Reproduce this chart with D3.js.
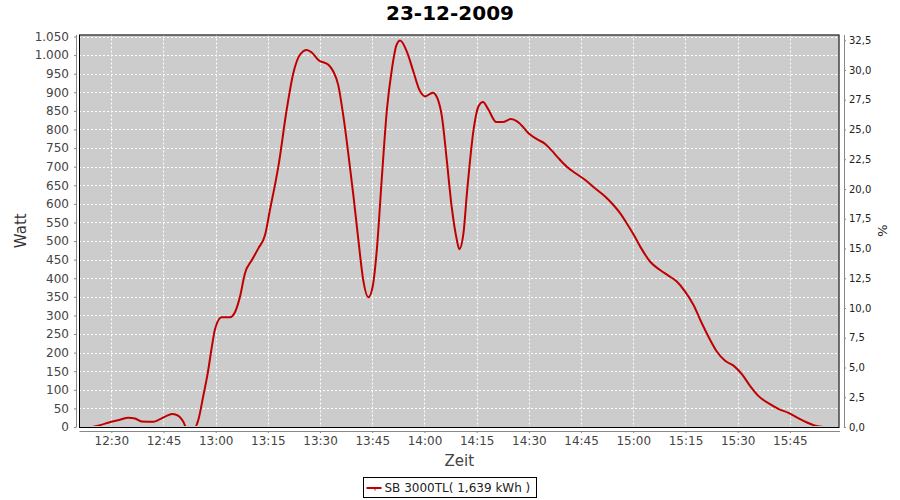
<!DOCTYPE html>
<html>
<head>
<meta charset="utf-8">
<script src="https://cdn.jsdelivr.net/npm/d3@7"></script>
<style>
  body { margin: 0; background: #fff; }
  svg { display: block; font-family: "DejaVu Sans", sans-serif; }
</style>
</head>
<body>
<svg id="chart" width="900" height="500"></svg>
<script>
// minutes after 12:00 on 23-12-2009, and power in Watt
var minutes = [24.5, 26.8, 29.6, 32.3, 34.9, 36.8, 38.7, 42.1, 44, 45.9, 47.6, 49.3, 50.7, 51.5, 54.1,
    55, 56.4, 57.7, 58.9, 59.8, 61.7, 64.1, 65.6, 67.0, 68.4, 70.4, 72.3, 74.2, 75.6, 77.3, 78.0,
    80.4, 82.3, 84.2, 86.2, 87.6, 89.5, 92.4, 93.8, 95.2, 96.7, 98.1, 99.6, 101.0, 102.4, 103.9,
    105.1, 106.3, 107.7, 109.2, 110.6, 112.0, 113.0, 114.9, 116.8, 118.5, 120.2, 122.4, 123.7,
    125.0, 126.4, 127.8, 129.3, 130.0, 131.2, 132.2, 134.1, 135.5, 136.8, 138.4, 140.6, 142.5,
    144.8, 146.7, 148.0, 149.9, 152.3, 154.7, 156.6, 158.5, 160.9, 163.3, 166.2, 169.0, 171.9,
    174.3, 176.2, 178.1, 180.0, 182.0, 184.8, 187.7, 190.1, 192.5, 194.9, 197.3, 199.7, 202.1,
    204.0, 206.4, 208.8, 211.2, 213.6, 216.0, 218.8, 221.7, 224.6, 227.5, 229.9, 231.8, 234.7];
var watt = [0, 5, 13, 19, 25, 23, 15, 14, 21, 30, 35, 30, 14, 0, 0,
    19, 82, 144, 216, 263, 295, 295, 310, 351, 413, 449, 481, 517, 584, 664, 700,
    853, 951, 1001, 1014, 1007, 987, 974, 956, 920, 835, 736, 620, 503, 395, 349,
    377, 476, 664, 853, 960, 1028, 1039, 1010, 956, 907, 889, 899, 884,
    835, 718, 593, 503, 478, 521, 629, 799, 862, 874, 853, 820, 820,
    828, 821, 810, 790, 774, 761, 743, 723, 700, 683, 664, 642, 620,
    597, 575, 548, 519, 485, 445, 422, 407, 391, 364, 328, 279, 234,
    203, 178, 165, 142, 110, 83, 64, 49, 38, 23, 12, 5, 0];

var title = "23-12-2009";
var seriesName = "SB 3000TL( 1,639 kWh )";
var nominal = 3200; // percent axis relative to this

var de = d3.formatLocale({decimal: ",", thousands: ".", grouping: [3], currency: ["", " €"]});

var day = new Date(2009, 11, 23, 12, 0);
function toDate(m) { return new Date(day.getTime() + m * 60000); }

var plot = {left: 79, top: 34.5, right: 839.5, bottom: 427};

var x = d3.scaleTime()
    .domain([toDate(20.72), toDate(239.26)])
    .range([plot.left, plot.right]);
var y = d3.scaleLinear()
    .domain([0, 1055.4])
    .range([plot.bottom, plot.top]);
var y2 = d3.scaleLinear()
    .domain([0, 1055.4 / nominal * 100])
    .range([plot.bottom, plot.top]);

var svg = d3.select("#chart");

// title
svg.append("text")
    .attr("x", 450).attr("y", 20)
    .attr("text-anchor", "middle")
    .style("font-size", "20px").style("font-weight", "bold")
    .attr("fill", "#000")
    .text(title);

// plot background
svg.append("rect")
    .attr("x", plot.left).attr("y", plot.top)
    .attr("width", plot.right - plot.left).attr("height", plot.bottom - plot.top)
    .attr("fill", "#cccccc");

var xTicks = x.ticks(d3.timeMinute.every(15));
var yTicks = d3.range(0, 1051, 50);
var y2Ticks = d3.range(0, 32.6, 2.5);

// grid
svg.append("g").selectAll("line").data(xTicks).enter().append("line")
    .attr("x1", function(d) { return Math.round(x(d)) + 0.5; })
    .attr("x2", function(d) { return Math.round(x(d)) + 0.5; })
    .attr("y1", plot.top).attr("y2", plot.bottom)
    .attr("stroke", "#fff").attr("stroke-dasharray", "2,2");
svg.append("g").selectAll("line").data(yTicks.slice(1)).enter().append("line")
    .attr("x1", plot.left).attr("x2", plot.right)
    .attr("y1", function(d) { return Math.round(y(d)) + 0.5; })
    .attr("y2", function(d) { return Math.round(y(d)) + 0.5; })
    .attr("stroke", "#fff").attr("stroke-dasharray", "2,2");

// series (zero values hide behind the bottom border)
svg.append("clipPath").attr("id", "clip").append("rect")
    .attr("x", plot.left).attr("y", plot.top - 2)
    .attr("width", plot.right - plot.left).attr("height", plot.bottom - plot.top + 1);

var line = d3.line()
    .x(function(d, i) { return x(toDate(minutes[i])); })
    .y(function(d) { return y(d); })
    .curve(d3.curveMonotoneX);

svg.append("path")
    .datum(watt)
    .attr("clip-path", "url(#clip)")
    .attr("d", line)
    .attr("fill", "none")
    .attr("stroke", "#c00000")
    .attr("stroke-width", 2);

// plot outline
svg.append("rect")
    .attr("x", plot.left + 0.5).attr("y", plot.top + 0.5)
    .attr("width", plot.right - plot.left - 1).attr("height", plot.bottom - plot.top)
    .attr("fill", "none").attr("stroke", "#000");

// axes
var xAxis = d3.axisBottom(x).tickValues(xTicks).tickFormat(d3.timeFormat("%H:%M"))
    .tickSizeInner(2).tickSizeOuter(0).tickPadding(3);
var gx = svg.append("g").attr("transform", "translate(0," + (plot.bottom + 4) + ")").call(xAxis);

var yAxis = d3.axisLeft(y).tickValues(yTicks).tickFormat(de.format(",d"))
    .tickSizeInner(2).tickSizeOuter(0).tickPadding(5);
var gy = svg.append("g").attr("transform", "translate(" + (plot.left - 3) + ",0)").call(yAxis);

var y2Axis = d3.axisRight(y2).tickValues(y2Ticks).tickFormat(de.format(".1f"))
    .tickSizeInner(2).tickSizeOuter(0).tickPadding(3);
var gy2 = svg.append("g").attr("transform", "translate(" + (plot.right + 4.5) + ",0)").call(y2Axis);

[gx, gy, gy2].forEach(function(g) {
    g.select(".domain").attr("stroke", "#888");
    g.selectAll(".tick line").attr("stroke", "#888");
    g.selectAll(".tick text").attr("fill", "#444")
        .style("font-family", "DejaVu Sans, sans-serif").style("font-size", "12px");
});
gy2.selectAll(".tick text").attr("fill", "#222").style("font-size", "10px");

// axis titles
svg.append("text")
    .attr("transform", "translate(26," + ((plot.top + plot.bottom) / 2) + ") rotate(-90)")
    .attr("text-anchor", "middle")
    .style("font-size", "15px").attr("fill", "#333")
    .text("Watt");
svg.append("text")
    .attr("x", (plot.left + plot.right) / 2).attr("y", 466)
    .attr("text-anchor", "middle")
    .style("font-size", "15px").attr("fill", "#444")
    .text("Zeit");
svg.append("text")
    .attr("transform", "translate(878," + ((plot.top + plot.bottom) / 2) + ") rotate(90)")
    .attr("text-anchor", "middle")
    .style("font-size", "13px").attr("fill", "#222")
    .text("%");

// legend
var lg = svg.append("g").attr("transform", "translate(363.5,477.5)");
lg.append("rect").attr("width", 173).attr("height", 20)
    .attr("fill", "#fff").attr("stroke", "#000");
lg.append("line").attr("x1", 3).attr("x2", 18).attr("y1", 10.5).attr("y2", 10.5)
    .attr("stroke", "#c00000").attr("stroke-width", 2);
lg.append("line").attr("x1", 11.5).attr("x2", 11.5).attr("y1", 10).attr("y2", 13)
    .attr("stroke", "#c00000").attr("stroke-width", 1);
lg.append("text").attr("x", 21).attr("y", 14.5)
    .style("font-size", "12px").attr("fill", "#222")
    .text(seriesName);
</script>
</body>
</html>
